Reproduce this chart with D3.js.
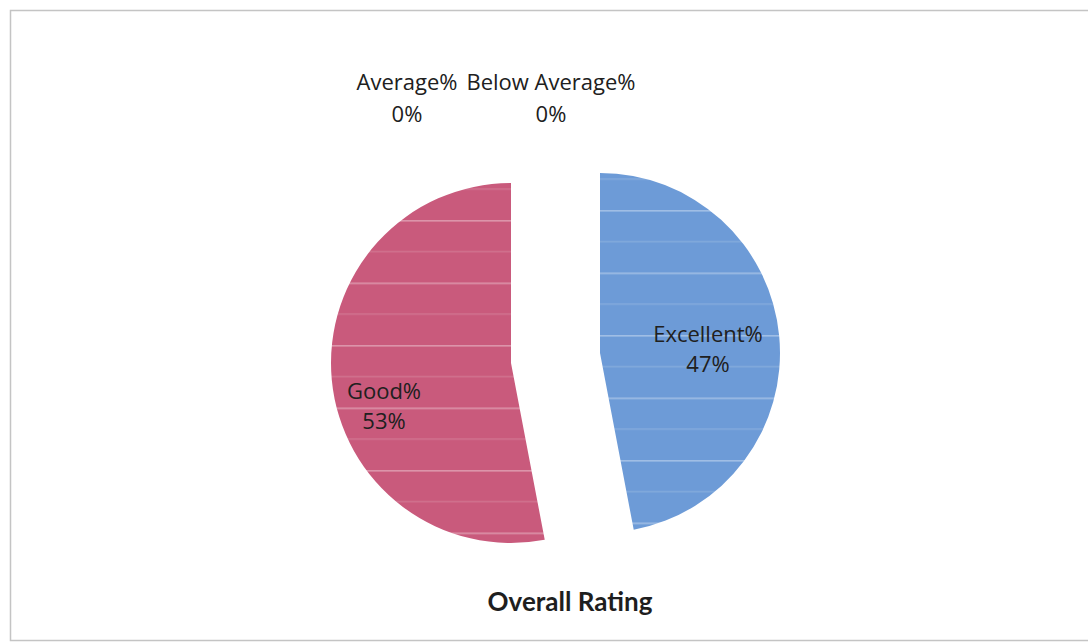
<!DOCTYPE html>
<html><head><meta charset="utf-8">
<script src="https://cdn.jsdelivr.net/npm/d3@7"></script>
<style>html,body{margin:0;padding:0;background:#fff;}svg{display:block;}</style>
</head><body>
<svg id="chart" width="1088" height="643"></svg>
<script>
const categories = ["Excellent%", "Average%", "Below Average%", "Good%"];
const values = [47, 0, 0, 53];
const valueLabels = ["47%", "0%", "0%", "53%"];
const colors = ["#6d9bd7", "#9bbb59", "#8064a2", "#c95a7c"];
const title = "Overall Rating";

const svg = d3.select("#chart");
const font = "'Open Sans', Lato, sans-serif";

svg.append("rect").attr("x", 10.5).attr("y", 10.5).attr("width", 1100).attr("height", 630)
  .attr("fill", "#fff").attr("stroke", "#c4c4c4").attr("stroke-width", 1.5);

// stripe pattern (scan lines)
const defs = svg.append("defs");
colors.forEach((c, i) => {
  const p = defs.append("pattern").attr("id", "pat" + i).attr("patternUnits", "userSpaceOnUse")
    .attr("width", 20).attr("height", 62.5).attr("y", 233 - 1);
  p.append("rect").attr("width", 20).attr("height", 62.5).attr("fill", c);
  p.append("rect").attr("y", 0).attr("width", 20).attr("height", 1.6).attr("fill", "#fff").attr("opacity", 0.35);
  p.append("rect").attr("y", 31).attr("width", 20).attr("height", 1.2).attr("fill", "#fff").attr("opacity", 0.18);
});

const R = 180;
const cx = 555.5, cy = 357;
const pie = d3.pie().sort(null).value(d => d).startAngle(0).endAngle(2 * Math.PI);
const arcs = pie(values);
const arc = d3.arc().innerRadius(0).outerRadius(R);
// explosion offsets per slice (Excel-like exploded pie)
const explode = [[44.5, -4], [0, 0], [0, 0], [-44.5, 6]];

const g = svg.append("g").attr("transform", `translate(${cx},${cy})`);
arcs.forEach((a, i) => {
  if (a.value <= 0) return;
  g.append("path").attr("d", arc(a)).attr("fill", `url(#pat${i})`)
    .attr("transform", `translate(${explode[i][0]},${explode[i][1]})`);
});

// data label anchor positions: [x name, y name, x value, y value]
const labelPos = {
  0: [708, 342, 708, 372],
  3: [384, 399, 384, 429],
  1: [407, 90, 407, 122],
  2: [551, 90, 551, 122]
};
categories.forEach((c, i) => {
  const lp = labelPos[i];
  svg.append("text").attr("x", lp[0]).attr("y", lp[1]).attr("text-anchor", "middle")
    .attr("font-family", font).attr("font-size", 22).attr("fill", "#202020").text(c);
  svg.append("text").attr("x", lp[2]).attr("y", lp[3]).attr("text-anchor", "middle")
    .attr("font-family", font).attr("font-size", 22).attr("fill", "#202020").text(valueLabels[i]);
});

svg.append("text").attr("x", 570).attr("y", 611).attr("text-anchor", "middle")
  .attr("font-family", "Lato, 'Open Sans', sans-serif").attr("font-size", 26).attr("font-weight", "bold").attr("fill", "#1e1e1e").text(title);
</script>
</body></html>
